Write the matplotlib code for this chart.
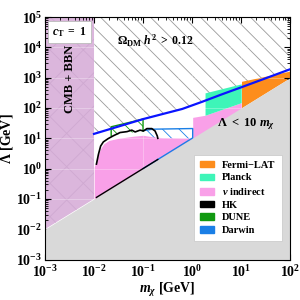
import matplotlib
matplotlib.use('Agg')
import matplotlib.pyplot as plt
from matplotlib.patches import Patch
import numpy as np

plt.rcParams['font.family'] = 'serif'
plt.rcParams['font.serif'] = ['Liberation Serif', 'DejaVu Serif']
plt.rcParams['font.weight'] = 'bold'
plt.rcParams['axes.labelweight'] = 'bold'
plt.rcParams['mathtext.fontset'] = 'custom'
plt.rcParams['mathtext.rm'] = 'Liberation Serif:bold'
plt.rcParams['mathtext.it'] = 'Liberation Serif:italic:bold'
plt.rcParams['mathtext.bf'] = 'Liberation Serif:bold'
plt.rcParams['hatch.linewidth'] = 0.6

# relic density boundary (blue line), m [GeV] vs Lambda [GeV]
relic_m = [0.01, 0.1, 0.63, 1.6, 4.0, 10.0, 100.0]
relic_L = [14, 43, 93, 160, 280, 480, 1900]

# nu indirect (pink) upper edge
nu_m = [0.01, 0.0117, 0.0135, 0.0158, 0.02, 0.0316, 0.063, 0.1, 0.158, 0.25, 1.03, 1.03, 1.84, 10.2]
nu_L = [1.12, 2.24, 4.47, 6.6, 8.5, 10.0, 11.7, 12.6, 11.2, 10.5, 10.2, 49, 57.5, 151]

# Planck
planck_m = [1.84, 10.2]
planck_lo = [57.5, 151]
planck_hi = [316, 630]

# Fermi-LAT
fermi_m = [10.2, 100.0]
fermi_hi = [760, 1660]

# HK projection (wiggly upper edge)
hk_m = [0.0112, 0.0123, 0.01365, 0.0155, 0.0195, 0.0245, 0.034, 0.047, 0.059,
        0.069, 0.087, 0.102, 0.12, 0.151, 0.176, 0.195, 0.2]
hk_L = [1.41, 2.95, 5.56, 7.6, 9.8, 12.0, 15.5, 16.6, 18.6,
        16.2, 18.6, 17.4, 20.9, 20.9, 17.4, 12.0, 10.0]
hk_low_m = [0.0112, 0.2]

# DUNE projection
dune_m = [0.0224, 0.0224, 0.1, 0.1]
dune_L = [12.4, 24, 43, 17.4]

# Darwin projection
darwin_m = [0.1, 0.16, 1.03, 1.03, 0.1]
darwin_L = [18, 20, 21, 10.3, 1.0]

# Lambda < 10 m_chi and CMB+BBN
m_grid = [1e-3, 1e2]
cmb_m = [1e-3, 1e-2]

c_orange = '#fd8d1c'
c_planck = '#3ef5b8'
c_pink = '#f9a0e8'
c_dune = '#119911'
c_darwin = '#1a7fe6'
c_cmb = '#dbb6dc'
c_gray = '#d9d9d9'

fig = plt.figure(figsize=(3, 3), dpi=100)
ax = fig.add_axes([0.15, 0.135, 0.817, 0.808])
ax.set_xscale('log')
ax.set_yscale('log')

# overabundant region
ax.fill_between(relic_m, relic_L, 1e5, facecolor='none', edgecolor='#9a9a9a',
                hatch='\\\\', lw=0, zorder=1)

# projections (hatched)
ax.fill(darwin_m, darwin_L, facecolor='none', edgecolor=c_darwin, hatch='\\\\', lw=0, zorder=1)
ax.fill(dune_m, dune_L, facecolor='none', edgecolor=c_dune, hatch='\\\\', lw=0, zorder=1)

# exclusions
ax.fill_between(nu_m, nu_L, 1e-3, color=c_pink, lw=0, zorder=1.5)
ax.fill_between(planck_m, planck_lo, planck_hi, color=c_planck, lw=0, zorder=1.5)
fermi_lo = [10 * m for m in fermi_m]
ax.fill_between(fermi_m, fermi_lo, fermi_hi, color=c_orange, lw=0, zorder=1.5)
cmb_lo = [10 * m for m in cmb_m]
ax.fill_between(cmb_m, cmb_lo, 1e5, facecolor=c_cmb, edgecolor='#cfa9d1',
                hatch='x', lw=0, zorder=1.5)
gray_L = [10 * m for m in m_grid]
ax.fill_between(m_grid, gray_L, 1e-3, color=c_gray, lw=0, zorder=2)

# outlines of projections
ax.plot(darwin_m, darwin_L, color=c_darwin, lw=1.0, zorder=4)
ax.plot(dune_m, dune_L, color=c_dune, lw=1.0, zorder=4)
ax.plot(hk_m, hk_L, color='k', lw=1.2, zorder=4.5)
ax.plot(hk_low_m, [10 * m for m in hk_low_m], color='k', lw=1.0, zorder=4.5)

ax.plot(relic_m, relic_L, color='#0a14ff', lw=1.6, zorder=5)

ax.grid(True, which='major', color='white', alpha=0.35, lw=0.6)

ax.set_xlim(1e-3, 1e2)
ax.set_ylim(1e-3, 1e5)
ax.tick_params(which='both', direction='in', top=True, right=True, labelsize=10)
ax.tick_params(which='major', length=4.5, width=0.8)
ax.tick_params(which='minor', length=2.5, width=0.6)
ax.tick_params(axis='x', pad=3)
ax.tick_params(axis='y', pad=2)
ax.yaxis.set_major_locator(matplotlib.ticker.LogLocator(base=10, numticks=20))
ax.yaxis.set_minor_locator(matplotlib.ticker.LogLocator(base=10, subs=np.arange(2, 10), numticks=20))
ax.xaxis.set_minor_locator(matplotlib.ticker.LogLocator(base=10, subs=np.arange(2, 10), numticks=20))
for lbl in ax.get_xticklabels() + ax.get_yticklabels():
    lbl.set_fontweight('bold')

ax.set_xlabel(r'$m_\chi$ [GeV]', fontsize=10, fontweight='bold', labelpad=1)
ax.set_ylabel(r'$\Lambda$ [GeV]', fontsize=10, fontweight='bold', labelpad=1)

ax.text(0.0032, 32000, r'$c_{\rm T}\ =\ 1$', fontsize=8.5, ha='center', va='center', zorder=6,
        bbox=dict(boxstyle='square,pad=0.35', facecolor='white', edgecolor='#bbbbbb', lw=0.6))
ax.text(0.0032, 900, 'CMB + BBN', fontsize=9, fontweight='bold', rotation=90,
        ha='center', va='center', zorder=6)
ax.text(0.176, 16000, r'$\Omega_{\rm DM}\ h^2\ >\ 0.12$', fontsize=8.5, ha='center', va='center', zorder=6)
ax.text(12.6, 29, r'$\Lambda\ <\ 10\ m_\chi$', fontsize=9, ha='center', va='center', zorder=6)

handles = [Patch(color=c_orange, label='Fermi\u2212LAT'),
           Patch(color=c_planck, label='Planck'),
           Patch(color=c_pink, label=r'$\nu$ indirect'),
           Patch(color='k', label='HK'),
           Patch(color=c_dune, label='DUNE'),
           Patch(color=c_darwin, label='Darwin')]
leg = ax.legend(handles=handles, loc='lower right', bbox_to_anchor=(0.965, 0.075),
                fontsize=7.5, frameon=True, fancybox=False, framealpha=1,
                edgecolor='#cccccc', labelspacing=0.35, handlelength=1.3,
                handleheight=0.6, borderaxespad=0, borderpad=0.6, handletextpad=0.8,
                prop={'weight': 'bold', 'size': 7.5})
leg.set_zorder(10)
leg.get_frame().set_linewidth(0.6)

fig.savefig('out.png', dpi=100)
